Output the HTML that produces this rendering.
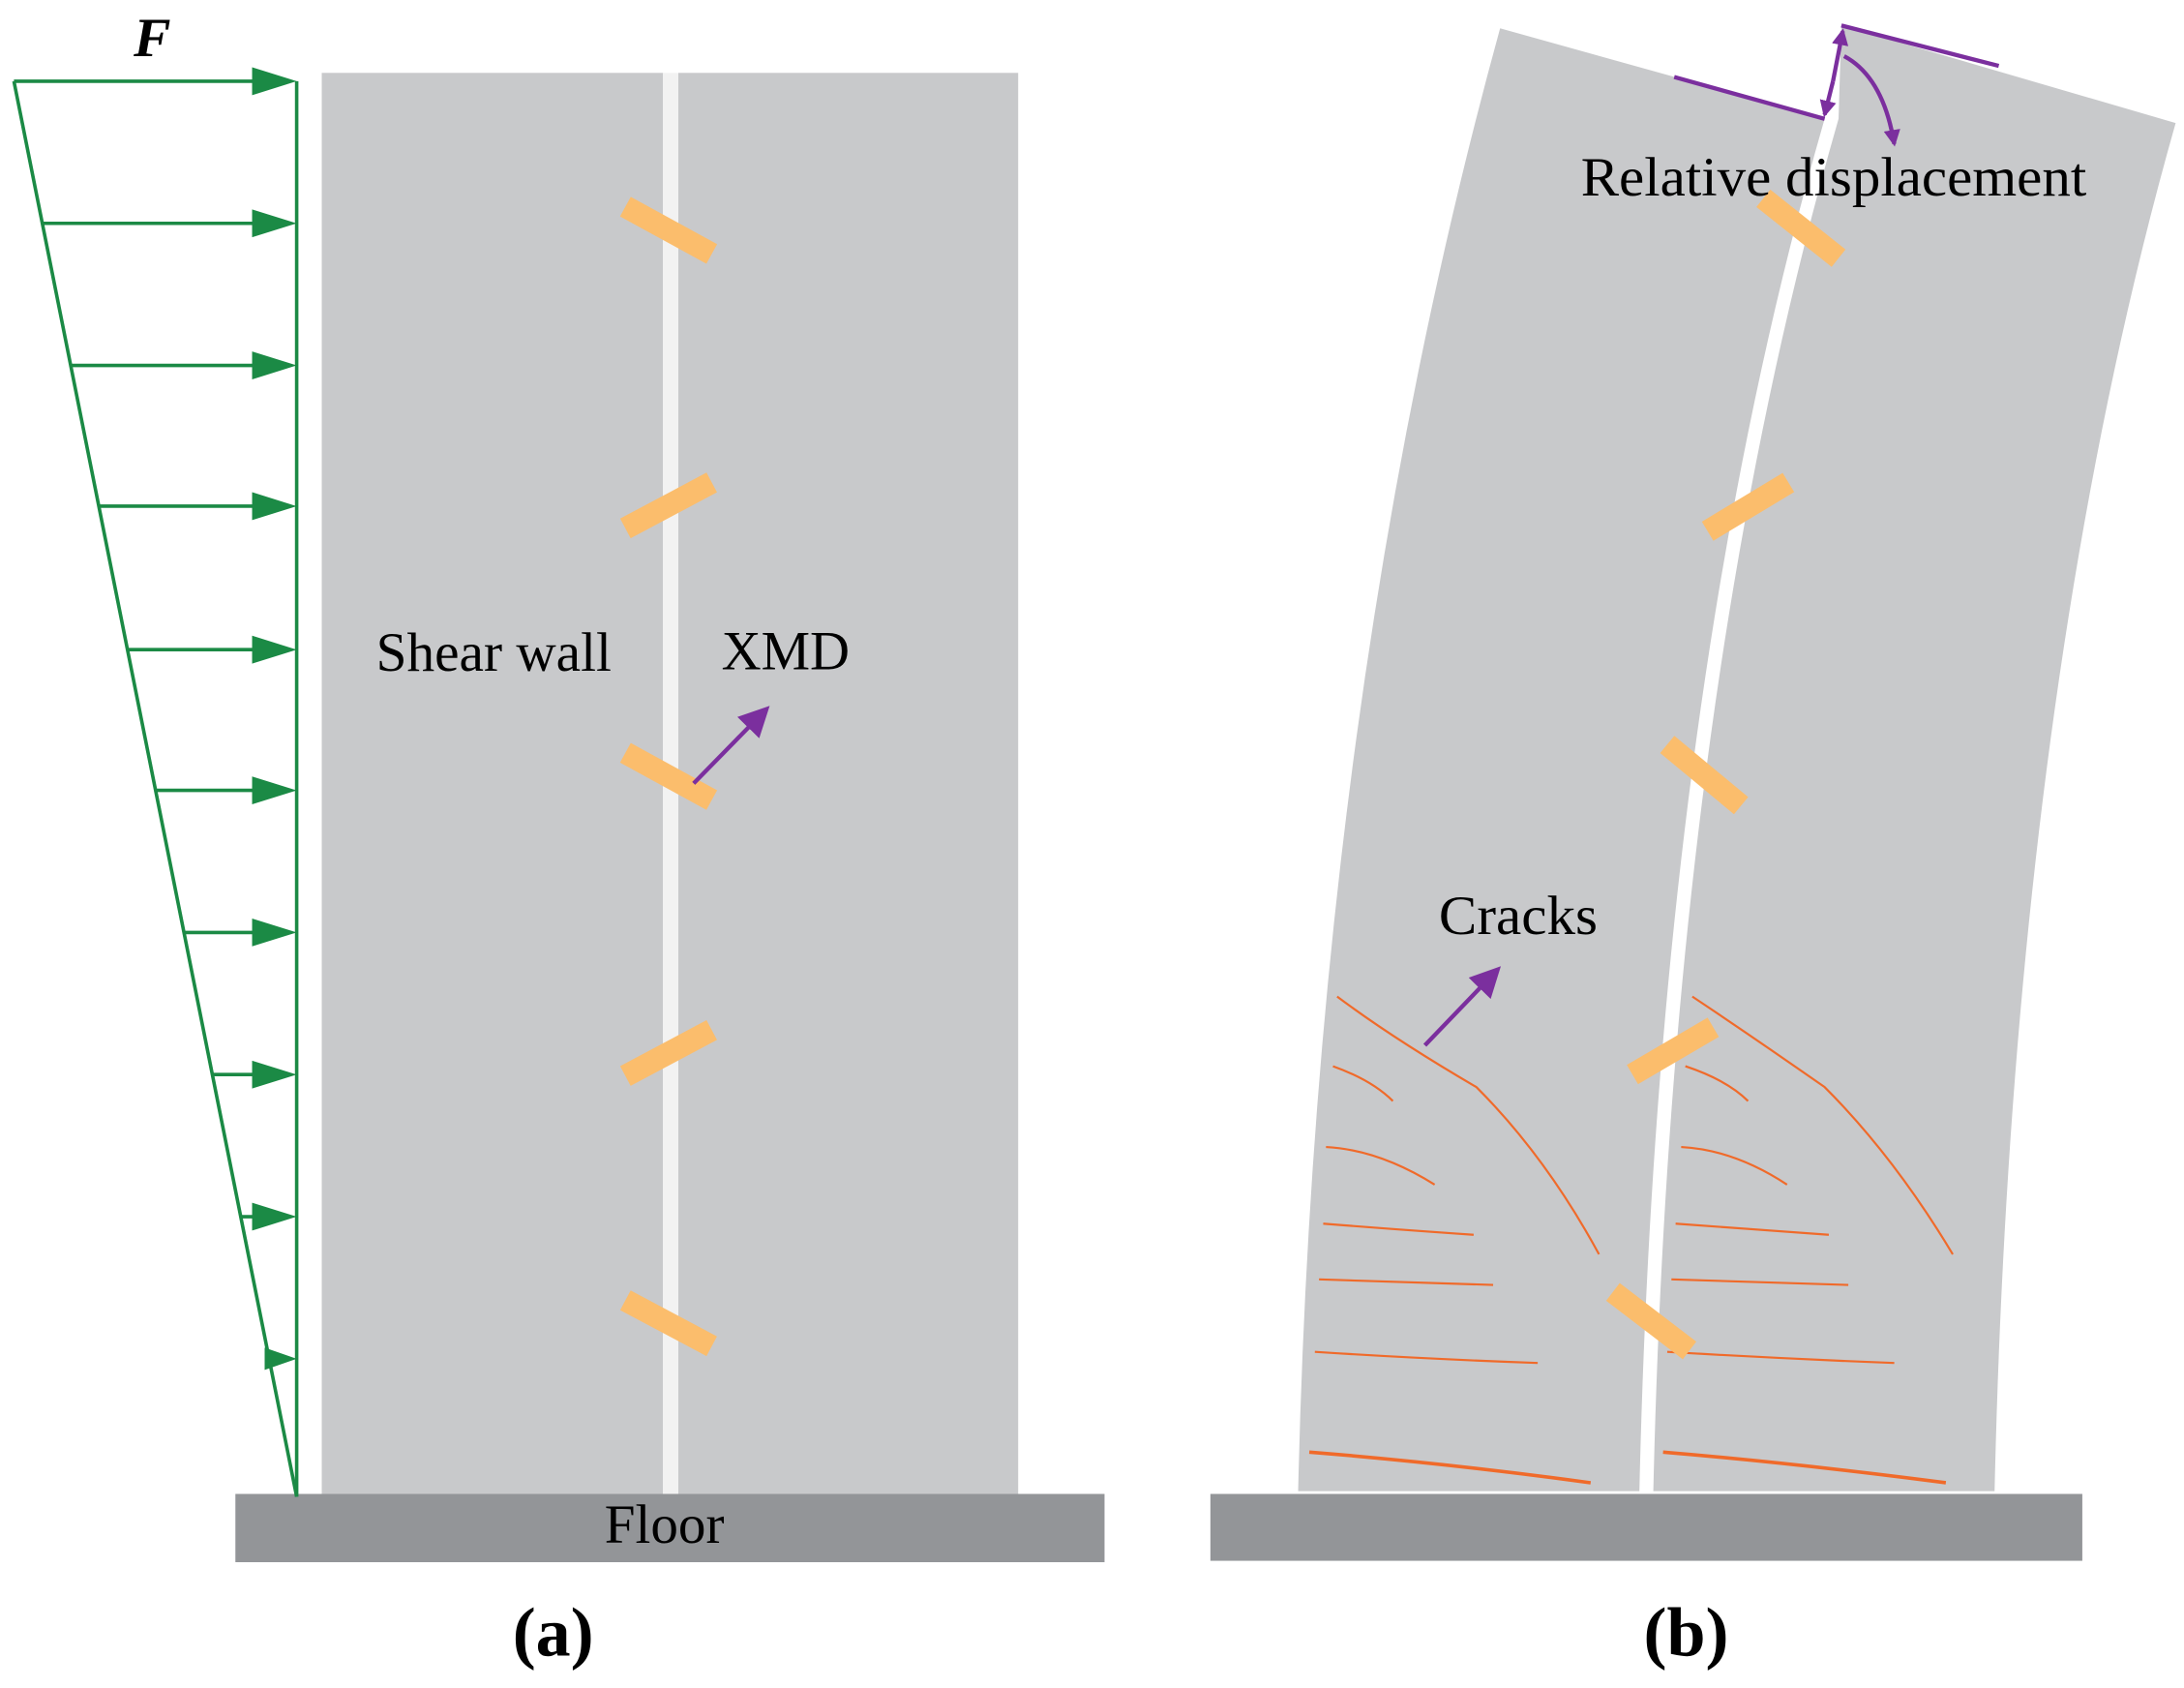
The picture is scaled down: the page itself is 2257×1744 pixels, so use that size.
<!DOCTYPE html>
<html><head><meta charset="utf-8"><style>
html,body{margin:0;padding:0;background:#fff;}
svg{display:block}
text{font-family:"Liberation Serif",serif;fill:#000}
</style></head><body>
<svg width="2257" height="1744" viewBox="0 0 1568 1211" xmlns="http://www.w3.org/2000/svg">
<defs>
<marker id="pb" markerWidth="22" markerHeight="22" refX="14" refY="11" orient="auto" markerUnits="userSpaceOnUse"><path d="M0,0 L22,11 L0,22 z" fill="#7b2f9e"/></marker>
<marker id="ps" markerWidth="12" markerHeight="12" refX="10" refY="6" orient="auto" markerUnits="userSpaceOnUse"><path d="M0,0 L12,6 L0,12 z" fill="#7b2f9e"/></marker>
</defs>
<!-- Panel a -->
<rect x="231" y="52" width="245" height="1020" fill="#c8c9cb"/>
<rect x="476" y="52" width="11" height="1020" fill="#f2f2f2"/>
<rect x="487" y="52" width="244" height="1020" fill="#c8c9cb"/>
<rect x="169" y="1072" width="624" height="49" fill="#939598"/>
<g stroke="#1b8a45" stroke-width="2.5" fill="none">
<line x1="213" y1="58" x2="213" y2="1074"/>
<line x1="10" y1="58" x2="213" y2="1074"/>
<line x1="10" y1="58" x2="190" y2="58"/>
<line x1="30" y1="160" x2="190" y2="160"/>
<line x1="51" y1="262" x2="190" y2="262"/>
<line x1="71" y1="363" x2="190" y2="363"/>
<line x1="92" y1="466" x2="190" y2="466"/>
<line x1="112" y1="567" x2="190" y2="567"/>
<line x1="132" y1="669" x2="190" y2="669"/>
<line x1="153" y1="771" x2="190" y2="771"/>
<line x1="173" y1="873" x2="190" y2="873"/>
<line x1="194" y1="975" x2="200" y2="975"/>
</g>
<g fill="#1b8a45">
<path d="M181,48 L213,58 L181,68z"/><path d="M181,150 L213,160 L181,170z"/><path d="M181,252 L213,262 L181,272z"/>
<path d="M181,353 L213,363 L181,373z"/><path d="M181,456 L213,466 L181,476z"/><path d="M181,557 L213,567 L181,577z"/>
<path d="M181,659 L213,669 L181,679z"/><path d="M181,761 L213,771 L181,781z"/><path d="M181,863 L213,873 L181,883z"/>
<path d="M190,967 L213,975 L190,983z"/>
</g>
<text x="96" y="40" font-size="40" font-weight="bold" font-style="italic">F</text>
<g stroke="#fbbd6c" stroke-width="16" stroke-linecap="butt">
<line x1="449" y1="148" x2="511" y2="182"/>
<line x1="449" y1="379" x2="511" y2="346"/>
<line x1="449" y1="540" x2="511" y2="574"/>
<line x1="449" y1="772" x2="511" y2="739"/>
<line x1="449" y1="933" x2="511" y2="966"/>
</g>
<text x="270" y="481" font-size="40" textLength="169" lengthAdjust="spacingAndGlyphs">Shear wall</text>
<text x="518" y="480" font-size="40" textLength="92" lengthAdjust="spacingAndGlyphs">XMD</text>
<line x1="498" y1="562" x2="547" y2="512" stroke="#7b2f9e" stroke-width="3" marker-end="url(#pb)"/>
<text x="434" y="1107" font-size="40" textLength="86" lengthAdjust="spacingAndGlyphs">Floor</text>
<text x="368" y="1188" font-size="50" font-weight="bold">(a)</text>
<!-- Panel b -->
<rect x="869" y="1072" width="626" height="48" fill="#939598"/>
<path d="M932,1070 Q945,500 1077,20 L1310,85 Q1190,500 1177,1070 Z" fill="#c8c9cb"/>
<path d="M1187,1070 Q1200,500 1320,85 L1322,18 L1562,88 Q1445,500 1432,1070 Z" fill="#c8c9cb"/>
<g stroke="#f06a2a" fill="none" stroke-width="1.5">
<path d="M960,715 Q1000,745 1060,780 Q1110,830 1148,900"/>
<path d="M957,765 Q985,775 1000,790"/>
<path d="M952,823 Q990,825 1030,850"/>
<path d="M950,878 Q1000,882 1058,886"/>
<path d="M947,918 Q1010,920 1072,922"/>
<path d="M944,970 Q1020,975 1104,978"/>
<path d="M940,1042 Q1040,1050 1142,1064" stroke-width="2.5"/>
<path d="M1215,715 Q1260,745 1310,780 Q1360,830 1402,900"/>
<path d="M1210,765 Q1240,775 1255,790"/>
<path d="M1207,823 Q1245,825 1283,850"/>
<path d="M1203,878 Q1260,882 1313,886"/>
<path d="M1200,918 Q1260,920 1327,922"/>
<path d="M1197,970 Q1280,975 1360,978"/>
<path d="M1194,1042 Q1290,1050 1397,1064" stroke-width="2.5"/>
</g>
<g stroke="#fbbd6c" stroke-width="16">
<line x1="1266" y1="142" x2="1320" y2="185"/>
<line x1="1226" y1="381" x2="1284" y2="346"/>
<line x1="1197" y1="534" x2="1250" y2="578"/>
<line x1="1172" y1="771" x2="1230" y2="737"/>
<line x1="1158" y1="927" x2="1213" y2="969"/>
</g>
<g stroke="#7b2f9e" stroke-width="3" fill="none">
<line x1="1202" y1="55" x2="1310" y2="85"/>
<line x1="1322" y1="18" x2="1435" y2="47"/>
<line x1="1316" y1="58" x2="1310" y2="82" marker-end="url(#ps)"/>
<line x1="1316" y1="58" x2="1323" y2="22" marker-end="url(#ps)"/>
<path d="M1324,40 Q1352,55 1360,103" marker-end="url(#ps)"/>
</g>
<text x="1135" y="140" font-size="40" textLength="363" lengthAdjust="spacingAndGlyphs">Relative displacement</text>
<text x="1033" y="670" font-size="40" textLength="114" lengthAdjust="spacingAndGlyphs">Cracks</text>
<line x1="1023" y1="750" x2="1072" y2="699" stroke="#7b2f9e" stroke-width="3" marker-end="url(#pb)"/>
<text x="1180" y="1188" font-size="50" font-weight="bold">(b)</text>
</svg>
</body></html>
